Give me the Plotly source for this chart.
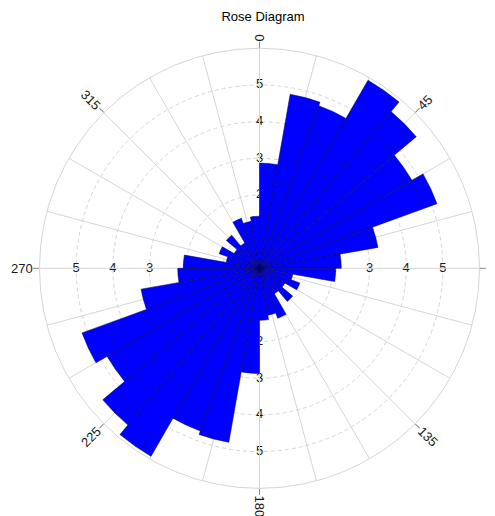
import math
import plotly.graph_objects as go

# ---- data ----
bin_centers = [5, 15, 25, 35, 45, 55, 65, 75, 85, 95, 105, 115, 125, 135, 145, 155, 165, 175,
               185, 195, 205, 215, 225, 235, 245, 255, 265, 275, 285, 295, 305, 315, 325, 335, 345, 355]
bin_values = [2.87, 4.82, 4.72, 5.92, 5.58, 4.80, 5.15, 3.28, 2.23,
              2.08, 0.92, 1.17, 0.80, 1.18, 0.80, 1.45, 1.30, 1.42,
              2.87, 4.82, 4.72, 5.92, 5.58, 4.80, 5.15, 3.28, 2.23,
              2.08, 0.92, 1.17, 0.80, 1.18, 0.80, 1.45, 1.30, 1.42]
bin_width = 10
radial_ticks = [1, 2, 3, 4, 5]
radial_label_angles = [0, 90, 180, 270]
angle_ticks = [0, 45, 90, 135, 180, 225, 270, 315]
angle_tick_text = ["0", "45", "90", "135", "180", "225", "270", "315"]
grid_angles = list(range(0, 360, 15))

# ---- geometry / style ----
W, H = 495, 516
PAGE_OFF = 8  # default page margin around the plot div
CX, CY, R = 259.5 - PAGE_OFF, 268.3 - PAGE_OFF, 220.0
FONT = "Liberation Sans, Arial, sans-serif"
GRID = "#d6d6d6"
dom_x = [(CX - R) / W, (CX + R) / W]
dom_y = [1 - (CY + R) / H, 1 - (CY - R) / H]

fig = go.Figure()

# radial labels (bottom polar, so bars cover them)
for a in radial_label_angles:
    fig.add_trace(go.Scatterpolar(
        r=radial_ticks, theta=[a] * len(radial_ticks),
        text=[str(v) for v in radial_ticks], mode="text",
        textfont=dict(family=FONT, size=13, color="#1a1a1a"),
        textposition="middle center", hoverinfo="skip", subplot="polar"))

# bars (top polar)
fig.add_trace(go.Barpolar(
    r=bin_values, theta=bin_centers, width=[bin_width] * len(bin_centers),
    marker=dict(color="#0000ff", line=dict(color="rgba(0,0,70,0.85)", width=0.6)),
    subplot="polar2", hoverinfo="skip"))

common_ang = dict(direction="clockwise", rotation=90)
fig.update_layout(
    width=W, height=H,
    margin=dict(l=0, r=0, t=0, b=0),
    paper_bgcolor="white",
    showlegend=False,
    title=dict(text="Rose Diagram", x=(263 - PAGE_OFF) / W, xanchor="center",
               y=1 - (16 - PAGE_OFF) / H, yanchor="middle",
               font=dict(family=FONT, size=13, color="#000000")),
    polar=dict(
        domain=dict(x=dom_x, y=dom_y), bgcolor="white",
        angularaxis=dict(tickmode="array", tickvals=angle_ticks, showticklabels=False,
                         ticks="outside", ticklen=6, tickcolor="#8c8c8c", showgrid=False,
                         showline=True, linecolor=GRID, linewidth=1, **common_ang),
        radialaxis=dict(range=[0, 6], tickmode="array", tickvals=[1, 2, 3, 4, 5, 6],
                        showticklabels=False, ticks="", showline=False,
                        showgrid=True, gridcolor=GRID, griddash="4px,3px", gridwidth=1),
    ),
    polar2=dict(
        domain=dict(x=dom_x, y=dom_y), bgcolor="rgba(0,0,0,0)",
        angularaxis=dict(tickmode="array", tickvals=grid_angles, showticklabels=False,
                         ticks="", showgrid=True, gridcolor=GRID, gridwidth=1,
                         showline=False, **common_ang),
        radialaxis=dict(range=[0, 6], showticklabels=False, ticks="", showline=False,
                        showgrid=False),
    ),
)

# rotated angular labels
char_w = 7.2
for a, t in zip(angle_ticks, angle_tick_text):
    L = len(t) * char_w
    d = R + 7 + L / 2
    rad = math.radians(a)
    xp = CX + d * math.sin(rad)
    yp = CY - d * math.cos(rad)
    if a in (0, 180):
        ang = 90
    elif a in (90, 270):
        ang = 0
    elif a in (45, 225):
        ang = -45
    else:
        ang = 45
    fig.add_annotation(x=xp / W, y=1 - yp / H, xref="paper", yref="paper",
                       text=t, showarrow=False, textangle=ang,
                       xanchor="center", yanchor="middle",
                       font=dict(family=FONT, size=13, color="#1a1a1a"))

fig.write_html("out.html")
